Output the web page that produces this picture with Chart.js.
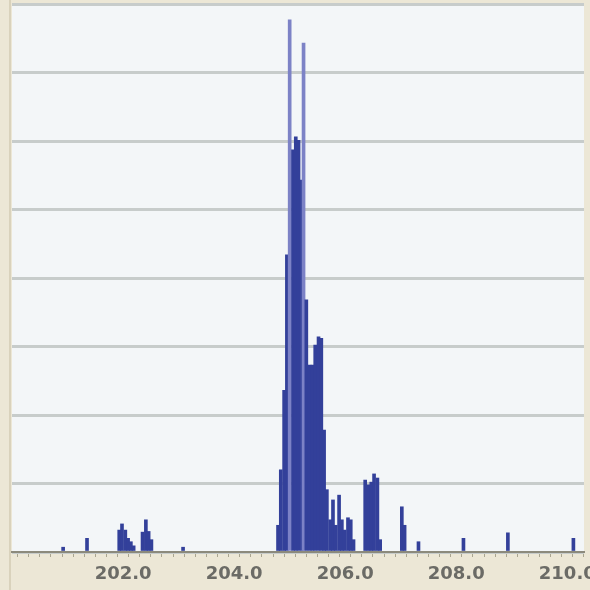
<!DOCTYPE html>
<html>
<head>
<meta charset="utf-8">
<script src="https://cdn.jsdelivr.net/npm/chart.js@4"></script>
<style>
  html, body { margin: 0; padding: 0; background: #ece7d6; }
  #wrap { width: 590px; height: 590px; position: relative; }
</style>
</head>
<body>
<div id="wrap"><canvas id="grafico" width="590" height="590"></canvas></div>
<script>
// m/z positions and intensities
const massas = [
  200.92, 201.35,
  201.93, 201.98, 202.04, 202.09, 202.14, 202.19,
  202.35, 202.41, 202.46, 202.51,
  203.08,
  204.79, 204.84, 204.90, 204.95, 205.00, 205.06, 205.11, 205.16, 205.22, 205.25,
  205.30, 205.36, 205.41, 205.46, 205.52, 205.57, 205.62, 205.67, 205.73, 205.78,
  205.83, 205.89, 205.94, 205.99, 206.05, 206.10, 206.15,
  206.36, 206.42, 206.47, 206.52, 206.58, 206.63,
  207.02, 207.07, 207.32,
  208.13, 208.93, 210.11
];
const intensidades = [
  0.07, 0.20,
  0.32, 0.41, 0.32, 0.20, 0.15, 0.09,
  0.29, 0.47, 0.30, 0.18,
  0.07,
  0.39, 1.20, 2.36, 4.34, 7.77, 5.87, 6.06, 6.01, 5.43, 7.43,
  3.68, 2.73, 2.73, 3.02, 3.14, 3.12, 1.78, 0.91, 0.47, 0.76,
  0.39, 0.83, 0.47, 0.32, 0.50, 0.47, 0.18,
  1.05, 0.98, 1.02, 1.14, 1.08, 0.18,
  0.66, 0.39, 0.15,
  0.20, 0.28, 0.20
];
const ticksX = [202, 204, 206, 208, 210];

const fundoArea = {
  id: "fundoArea",
  beforeDraw(chart) {
    const { ctx, chartArea: a } = chart;
    ctx.save();
    ctx.fillStyle = "#f3f6f8";
    ctx.fillRect(a.left, a.top, a.right - a.left, a.bottom - a.top);
    ctx.strokeStyle = "#d9d2bc";
    ctx.lineWidth = 2;
    ctx.beginPath();
    ctx.moveTo(10, 0);
    ctx.lineTo(10, 590);
    ctx.stroke();
    ctx.restore();
  }
};

const pontos = massas.map((m, i) => ({ x: m, y: intensidades[i] }));

new Chart(document.getElementById("grafico").getContext("2d"), {
  type: "bar",
  data: {
    datasets: [{
      data: pontos,
      backgroundColor: c => (c.raw && c.raw.y > 7 ? "#7c82c6" : "#33409a"),
      borderWidth: 0,
      barThickness: 3,
      grouped: false
    }]
  },
  options: {
    responsive: false,
    animation: false,
    layout: { padding: { top: 4, right: 6, left: 0, bottom: 0 } },
    plugins: { legend: { display: false }, tooltip: { enabled: false } },
    scales: {
      x: {
        type: "linear",
        min: 200.1,
        max: 210.2,
        afterFit: s => { s.height = 38; },
        afterBuildTicks: s => {
          const t = [];
          for (let k = 1001; k <= 1051; k++) t.push({ value: k / 5 });
          s.ticks = t;
        },
        ticks: {
          autoSkip: false,
          maxRotation: 0,
          padding: 7,
          color: "#6b6b66",
          font: { family: "DejaVu Sans", size: 18, weight: "bold" },
          callback: v => (ticksX.some(t => Math.abs(t - v) < 1e-6) ? v.toFixed(1) : "")
        },
        grid: { drawOnChartArea: false, tickLength: 5, color: "#a9a590", lineWidth: 1 },
        border: { color: "#8c8a7c", width: 2 }
      },
      y: {
        min: 0,
        max: 8,
        afterFit: s => { s.width = 12; },
        ticks: { display: false, stepSize: 1 },
        grid: { color: "#c7cccb", lineWidth: 3, drawTicks: false },
        border: { display: false }
      }
    }
  },
  plugins: [fundoArea]
});
</script>
</body>
</html>
